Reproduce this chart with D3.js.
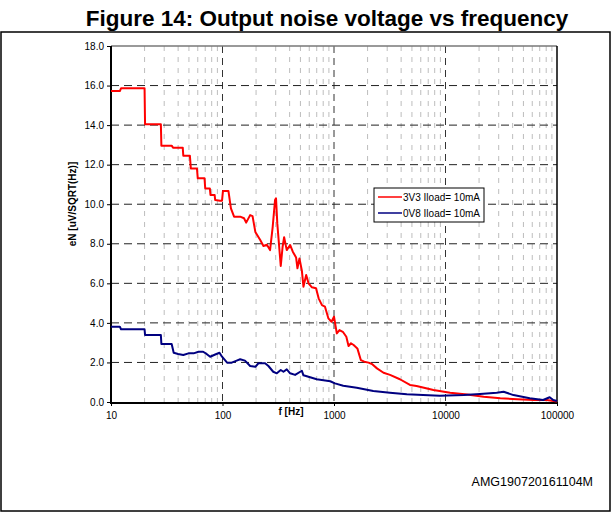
<!DOCTYPE html>
<html>
<head>
<meta charset="utf-8">
<script src="https://cdn.jsdelivr.net/npm/d3@7"></script>
<style>
  body { margin: 0; background: #fff; }
  svg { display: block; font-family: "Liberation Sans", Arial, sans-serif; }
</style>
</head>
<body>
<svg id="chart" width="612" height="515"></svg>
<script>
// ---- Data ----
const title = "Figure 14: Output noise voltage vs frequency";
const yTicks = [0, 2, 4, 6, 8, 10, 12, 14, 16, 18];
const xTicks = [10, 100, 1000, 10000, 100000];
const seriesNames = ["3V3 Iload= 10mA", "0V8 Iload= 10mA"];
const seriesColors = ["#ff0000", "#000080"];

const red3V3 = [
  [10,15.72],[12,15.72],[12.3,15.86],[20,15.86],[20.2,14.04],[28,14.04],[28.3,12.96],[35,12.96],[36,12.86],
  [44,12.86],[44.5,12.45],[51,12.45],[52,11.81],[59,11.81],[60,11.31],[69,11.31],[70,10.80],[77,10.80],
  [78,10.47],[85,10.47],[86,10.21],[95,10.18],[99,10.18],[101,10.67],[113,10.67],[119,9.79],[127,9.37],
  [144,9.37],[156,9.29],[163,9.07],[177,9.45],[186,9.40],[197,8.60],[218,8.19],[233,7.89],[250,7.95],
  [267,7.68],[282,8.86],[296,10.21],[302,10.30],[310,9.03],[333,6.88],[346,7.85],[357,8.33],[377,7.68],
  [404,7.94],[427,7.60],[457,7.31],[470,6.76],[490,7.26],[515,6.64],[532,5.83],[563,6.42],[591,6.00],
  [634,5.80],[690,5.75],[728,5.24],[780,4.90],[830,4.82],[890,4.23],[950,4.06],[1000,4.31],[1060,3.47],
  [1120,3.64],[1200,3.55],[1290,3.30],[1350,2.83],[1420,2.97],[1500,2.88],[1620,2.71],[1740,2.12],
  [1870,2.04],[2040,1.99],[2190,1.92],[2430,1.70],[2780,1.48],[3180,1.37],[3900,1.15],[4800,0.86],
  [5500,0.81],[7800,0.61],[11000,0.47],[15600,0.38],[22000,0.27],[31000,0.19],[44000,0.14],
  [62000,0.10],[81000,0.10],[100000,0.02]
];

const blue0V8 = [
  [10,3.81],[12,3.81],[12.3,3.68],[20,3.68],[20.2,3.39],[28,3.39],[28.3,2.93],[35,2.93],[36.5,2.49],
  [40,2.43],[44.5,2.38],[49.5,2.46],[55,2.46],[61,2.54],[67,2.54],[72,2.43],[77.5,2.29],[86,2.40],
  [94,2.49],[99,2.29],[110,1.99],[121,1.99],[134,2.09],[144,2.16],[159,2.09],[177,1.82],[197,1.78],
  [210,1.96],[241,1.96],[258,1.82],[285,1.53],[307,1.45],[333,1.62],[352,1.53],[377,1.65],[404,1.45],
  [448,1.37],[515,1.58],[532,1.35],[570,1.30],[700,1.15],[925,1.05],[1020,0.94],[1210,0.82],
  [1600,0.72],[2250,0.56],[3170,0.47],[4500,0.39],[6300,0.35],[8900,0.32],[14600,0.35],[20400,0.40],
  [28800,0.47],[33200,0.52],[40700,0.35],[57000,0.19],[75000,0.10],[86000,0.24],[92500,0.10],[100000,0.05]
];

// ---- Layout ----
const svg = d3.select("#chart");
const L = 111, R = 557, T = 46, B = 402;

const x = d3.scaleLog().domain([10, 100000]).range([L, R]);
const y = d3.scaleLinear().domain([0, 18]).range([B, T]);

// outer frame
svg.append("rect").attr("x", 1).attr("y", 32).attr("width", 609).attr("height", 479)
  .attr("fill", "none").attr("stroke", "#000").attr("stroke-width", 1.5);

// title
svg.append("text").attr("x", 327).attr("y", 26).attr("text-anchor", "middle")
  .attr("font-weight", "bold").attr("font-size", 22.5).attr("fill", "#000").text(title);

// minor / major vertical grid
const g = svg.append("g");
const minors = [];
for (let dec = 10; dec < 100000; dec *= 10) {
  for (let m = 2; m <= 9; m++) minors.push(dec * m);
}
g.selectAll("line.minor").data(minors).join("line")
  .attr("x1", d => x(d)).attr("x2", d => x(d)).attr("y1", T).attr("y2", B)
  .attr("stroke", "#bdbdbd").attr("stroke-width", 1).attr("stroke-dasharray", "5,6");
g.selectAll("line.major").data(xTicks.slice(1, -1)).join("line")
  .attr("x1", d => x(d)).attr("x2", d => x(d)).attr("y1", T).attr("y2", B)
  .attr("stroke", "#333").attr("stroke-width", 1).attr("stroke-dasharray", "7,5");

// horizontal grid
g.selectAll("line.h").data(yTicks.slice(1, -1)).join("line")
  .attr("x1", L).attr("x2", R).attr("y1", d => y(d)).attr("y2", d => y(d))
  .attr("stroke", "#222").attr("stroke-width", 1).attr("stroke-dasharray", "8,5");

// plot border
svg.append("line").attr("x1", L).attr("x2", R).attr("y1", T).attr("y2", T)
  .attr("stroke", "#777").attr("stroke-width", 1.5);
svg.append("line").attr("x1", R).attr("x2", R).attr("y1", T).attr("y2", B)
  .attr("stroke", "#000").attr("stroke-width", 1.5);

// axes
const yAxis = d3.axisLeft(y).tickValues(yTicks).tickFormat(d3.format(".1f")).tickSize(4).tickPadding(3);
const yg = svg.append("g").attr("transform", `translate(${L},0)`).call(yAxis);
const xAxis = d3.axisBottom(x).tickValues(xTicks).tickFormat(d3.format("d")).tickSize(4).tickPadding(6);
const xg = svg.append("g").attr("transform", `translate(0,${B})`).call(xAxis);
[yg, xg].forEach(a => {
  a.selectAll("text").attr("font-size", 10).attr("font-family", "Liberation Sans, Arial, sans-serif").attr("fill", "#000");
  a.selectAll(".tick line").attr("stroke", "#000");
  a.select(".domain").remove();
});
svg.append("line").attr("x1", L).attr("x2", L).attr("y1", T).attr("y2", B + 1)
  .attr("stroke", "#000").attr("stroke-width", 2);
svg.append("line").attr("x1", L - 1).attr("x2", R + 1).attr("y1", B + 1).attr("y2", B + 1)
  .attr("stroke", "#000").attr("stroke-width", 2);

// axis titles
svg.append("text").attr("transform", "translate(76,204) rotate(-90)").attr("text-anchor", "middle")
  .attr("font-weight", "bold").attr("font-size", 10).text("eN [uV/SQRT(Hz)]");
svg.append("text").attr("x", 291).attr("y", 415).attr("text-anchor", "middle")
  .attr("font-weight", "bold").attr("font-size", 10).text("f [Hz]");

// series
const line = d3.line().x(d => x(d[0])).y(d => y(d[1]));
[red3V3, blue0V8].forEach((s, i) => {
  svg.append("path").datum(s).attr("d", line).attr("fill", "none")
    .attr("stroke", seriesColors[i]).attr("stroke-width", 2).attr("stroke-linejoin", "round");
});

// legend
const lg = svg.append("g");
lg.append("rect").attr("x", 374).attr("y", 188).attr("width", 110).attr("height", 34)
  .attr("fill", "#fff").attr("stroke", "#000").attr("stroke-width", 1);
seriesNames.forEach((n, i) => {
  const yy = 197 + i * 16;
  lg.append("line").attr("x1", 378).attr("x2", 402).attr("y1", yy).attr("y2", yy)
    .attr("stroke", seriesColors[i]).attr("stroke-width", 1.5);
  lg.append("text").attr("x", 403).attr("y", yy + 3.5).attr("font-size", 10).text(n);
});

// footer code
svg.append("text").attr("x", 593).attr("y", 486).attr("text-anchor", "end")
  .attr("font-size", 12.5).text("AMG190720161104M");
</script>
</body>
</html>
